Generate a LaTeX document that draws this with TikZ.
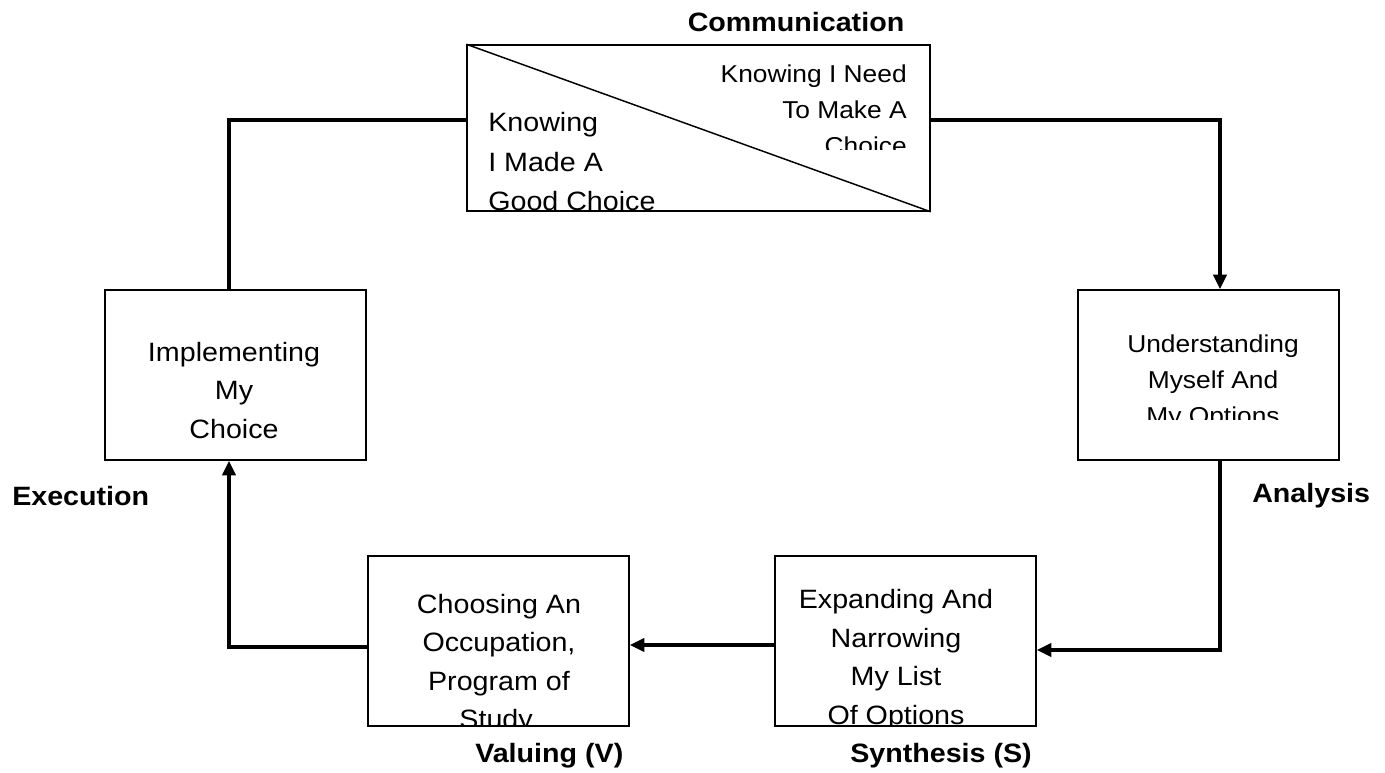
\documentclass[tikz,border=0pt]{standalone}
\usepackage{fontspec}
\usepackage{graphicx}
\setmainfont{Liberation Sans}
\usetikzlibrary{arrows.meta,fit,calc}
\newcommand{\hs}[1]{\scalebox{1.08}[1]{#1}}
\tikzset{
  boxnode/.style={draw=black,line width=1.2pt,inner sep=0pt,fill=none},
  txta/.style={inner sep=0pt,font=\fontsize{18.3pt}{20pt}\selectfont},
  txtb/.style={inner sep=0pt,font=\fontsize{19.9pt}{22pt}\selectfont},
  lbl/.style={inner sep=0pt,font=\fontsize{19.9pt}{22pt}\selectfont\bfseries},
  conn/.style={draw=black,line width=2.4pt},
  tipped/.style={-{Triangle[length=11pt,width=10pt]}}
}
\begin{document}
\begin{tikzpicture}[x=0.75pt,y=-0.75pt]
\useasboundingbox (0,0) rectangle (1385,773);
% boxes
\node[boxnode,fit={(467,45)(930,211)}] (comm) {};
\node[boxnode,fit={(1078,290)(1339,460)}] (ana) {};
\node[boxnode,fit={(775,556)(1036,726)}] (exp) {};
\node[boxnode,fit={(368,556)(629,726)}] (cho) {};
\node[boxnode,fit={(105,290)(366,460)}] (impl) {};
\draw[line width=1.1pt] (comm.north west) -- (comm.south east);
% texts in top box
\begin{scope}
\clip (467,45) rectangle (930,150);
\node[txta,anchor=base east] (c1) at (907,83) {\hs{Knowing I Need}};
\node[txta,anchor=base east] (c2) at (907,119) {\hs{To Make A}};
\node[txta,anchor=base east] (c3) at (907,155) {\hs{Choice}};
\end{scope}
\begin{scope}
\clip (467,45) rectangle (930,211);
\node[txtb,anchor=base west] (c4) at (488,132) {\hs{Knowing}};
\node[txtb,anchor=base west] (c5) at (488,172) {\hs{I Made A}};
\node[txtb,anchor=base west] (c6) at (488,211) {\hs{Good Choice}};
\end{scope}
% analysis box
\begin{scope}
\clip (1078,290) rectangle (1339,420);
\node[txta,anchor=base] (a1) at (1213,353) {\hs{Understanding}};
\node[txta,anchor=base] (a2) at (1213,389) {\hs{Myself And}};
\node[txta,anchor=base] (a3) at (1213,425) {\hs{My Options}};
\end{scope}
% synthesis box
\begin{scope}
\clip (775,556) rectangle (1036,726);
\node[txtb,anchor=base] (e1) at (896,608) {\hs{Expanding And}};
\node[txtb,anchor=base] (e2) at (896,647) {\hs{Narrowing}};
\node[txtb,anchor=base] (e3) at (896,685) {\hs{My List}};
\node[txtb,anchor=base] (e4) at (896,724) {\hs{Of Options}};
\end{scope}
% valuing box
\begin{scope}
\clip (368,556) rectangle (629,726);
\node[txtb,anchor=base] (h1) at (499,613) {\hs{Choosing An}};
\node[txtb,anchor=base] (h2) at (499,651.5) {\hs{Occupation,}};
\node[txtb,anchor=base] (h3) at (499,690) {\hs{Program of}};
\node[txtb,anchor=base] (h4) at (499,728.5) {\hs{Study,}};
\end{scope}
% execution box
\node[txtb,anchor=base] (i1) at (234,361.5) {\hs{Implementing}};
\node[txtb,anchor=base] (i2) at (234,400) {\hs{My}};
\node[txtb,anchor=base] (i3) at (234,438.5) {\hs{Choice}};
% labels
\node[lbl,anchor=base] (lcomm) at (796,32) {\hs{Communication}};
\node[lbl,anchor=base west] (lana) at (1252,502) {\hs{Analysis}};
\node[lbl,anchor=base west] (lexe) at (12,505) {\hs{Execution}};
\node[lbl,anchor=base west] (lval) at (475,762) {\hs{Valuing (V)}};
\node[lbl,anchor=base west] (lsyn) at (850,762) {\hs{Synthesis (S)}};
% connector guides
\coordinate (lx) at (229,0);
\coordinate (rx) at (1220,0);
\coordinate (ytop) at (0,120);
\coordinate (yr) at (0,650);
\coordinate (ym) at (0,645);
\coordinate (yl) at (0,647);
% connectors
\draw[conn] (impl.north -| lx) |- (comm.west |- ytop);
\draw[conn,tipped] (comm.east |- ytop) -| (ana.north -| rx);
\draw[conn,tipped] (ana.south -| rx) |- (exp.east |- yr);
\draw[conn,tipped] (exp.west |- ym) -- (cho.east |- ym);
\draw[conn,tipped] (cho.west |- yl) -| (impl.south -| lx);
\end{tikzpicture}
\end{document}
